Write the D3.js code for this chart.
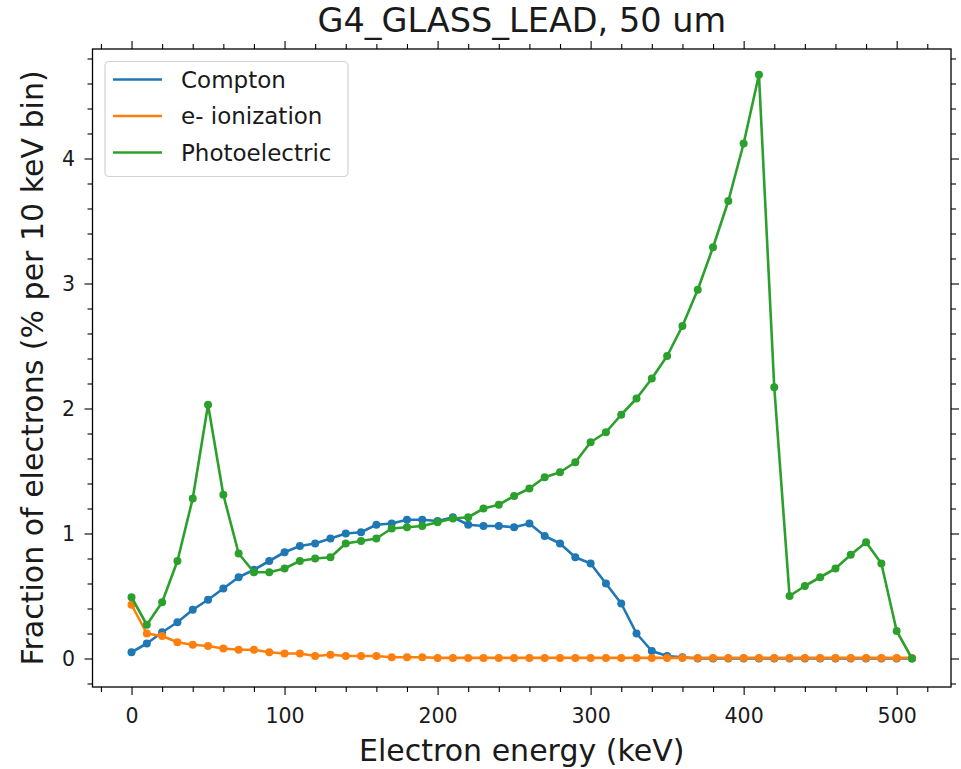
<!DOCTYPE html>
<html>
<head>
<meta charset="utf-8">
<script src="https://cdn.jsdelivr.net/npm/d3@7"></script>
<style>
  body { margin: 0; background: #fff; }
  svg { display: block; }
  text { font-family: "DejaVu Sans", sans-serif; fill: #1a1a1a; }
</style>
</head>
<body>
<svg id="chart" width="961" height="769"></svg>
<script>
const energies = d3.range(0, 520, 10);
const compton = [0.05,0.12,0.21,0.29,0.39,0.47,0.56,0.65,0.71,0.78,0.85,0.90,0.92,0.96,1.00,1.01,1.07,1.08,1.11,1.11,1.10,1.13,1.07,1.06,1.06,1.05,1.08,0.98,0.92,0.81,0.76,0.60,0.44,0.20,0.06,0.02,0.01,0,0,0,0,0,0,0,0,0,0,0,0,0,0,0];
const ionization = [0.43,0.20,0.18,0.13,0.11,0.10,0.08,0.07,0.07,0.05,0.04,0.04,0.02,0.03,0.02,0.02,0.02,0.01,0.01,0.01,0.005,0.005,0.005,0.005,0.005,0.005,0.005,0.005,0.005,0.005,0.005,0.005,0.005,0.005,0.005,0.005,0.005,0.005,0.005,0.005,0.005,0.005,0.005,0.005,0.005,0.005,0.005,0.005,0.005,0.005,0.005,0.005];
const photoelectric = [0.49,0.27,0.45,0.78,1.28,2.03,1.31,0.84,0.69,0.69,0.72,0.78,0.80,0.81,0.92,0.94,0.96,1.04,1.05,1.06,1.09,1.12,1.13,1.20,1.23,1.30,1.36,1.45,1.49,1.57,1.73,1.81,1.95,2.08,2.24,2.42,2.66,2.95,3.29,3.66,4.12,4.67,2.17,0.50,0.58,0.65,0.72,0.83,0.93,0.76,0.22,0.0];
const seriesNames = ["Compton", "e- ionization", "Photoelectric"];
const seriesColors = ["#1f77b4", "#ff7f0e", "#2ca02c"];
const xTicks = [0, 100, 200, 300, 400, 500];
const yTicks = [0, 1, 2, 3, 4];
const titleText = "G4_GLASS_LEAD, 50 um";
const xLabel = "Electron energy (keV)";
const yLabel = "Fraction of electrons (% per 10 keV bin)";

const svg = d3.select("#chart");
const L = 92.5, R = 951, T = 49, B = 687;
const x = d3.scaleLinear().domain([-25.5, 535.5]).range([L, R]);
const y = d3.scaleLinear().domain([-0.228, 4.876]).range([B, T]);

const xMinor = d3.range(-20, 540, 20).filter(v => v % 100 !== 0);
const yMinor = d3.range(-0.2, 4.9, 0.2).map(v => +v.toFixed(1)).filter(v => Math.abs(v - Math.round(v)) > 1e-6);
const MAJ = 8, MIN = 5;

function styleAxis(g) {
  g.select(".domain").remove();
  g.selectAll(".tick line").attr("stroke", "#000").attr("stroke-width", 1.1);
  g.selectAll(".tick text").style("font-size", "20.5px").attr("fill", "#1a1a1a");
}

// bottom
svg.append("g").attr("transform", `translate(0,${B})`)
  .call(d3.axisBottom(x).tickValues(xTicks).tickSize(MAJ).tickPadding(13.5).tickFormat(d3.format("d")))
  .call(styleAxis);
svg.append("g").attr("transform", `translate(0,${B})`)
  .call(d3.axisBottom(x).tickValues(xMinor).tickSize(MIN).tickFormat(""))
  .call(styleAxis);
// top
svg.append("g").attr("transform", `translate(0,${T})`)
  .call(d3.axisTop(x).tickValues(xTicks).tickSize(MAJ).tickFormat(""))
  .call(styleAxis);
svg.append("g").attr("transform", `translate(0,${T})`)
  .call(d3.axisTop(x).tickValues(xMinor).tickSize(MIN).tickFormat(""))
  .call(styleAxis);
// left
svg.append("g").attr("transform", `translate(${L},0)`)
  .call(d3.axisLeft(y).tickValues(yTicks).tickSize(MAJ).tickPadding(9.5).tickFormat(d3.format("d")))
  .call(styleAxis);
svg.append("g").attr("transform", `translate(${L},0)`)
  .call(d3.axisLeft(y).tickValues(yMinor).tickSize(MIN).tickFormat(""))
  .call(styleAxis);
// right
svg.append("g").attr("transform", `translate(${R},0)`)
  .call(d3.axisRight(y).tickValues(yTicks).tickSize(MAJ).tickFormat(""))
  .call(styleAxis);
svg.append("g").attr("transform", `translate(${R},0)`)
  .call(d3.axisRight(y).tickValues(yMinor).tickSize(MIN).tickFormat(""))
  .call(styleAxis);

// frame
svg.append("rect").attr("x", L).attr("y", T).attr("width", R - L).attr("height", B - T)
  .attr("fill", "none").attr("stroke", "#000").attr("stroke-width", 1.3);

// data
const allSeries = [compton, ionization, photoelectric];
const line = d3.line().x((d, i) => x(energies[i])).y(d => y(d));
const plot = svg.append("g");
allSeries.forEach((vals, k) => {
  const g = plot.append("g");
  g.append("path").datum(vals).attr("d", line)
    .attr("fill", "none").attr("stroke", seriesColors[k]).attr("stroke-width", 2.6)
    .attr("stroke-linejoin", "round");
  g.selectAll("circle").data(vals).join("circle")
    .attr("cx", (d, i) => x(energies[i])).attr("cy", d => y(d)).attr("r", 4)
    .attr("fill", seriesColors[k]);
});

// legend
const lg = svg.append("g");
lg.append("rect").attr("x", 105).attr("y", 61.5).attr("width", 243).attr("height", 115)
  .attr("rx", 4).attr("fill", "#fff").attr("fill-opacity", 0.8)
  .attr("stroke", "#d3d3d3").attr("stroke-width", 1.2);
const legendY = [79.5, 116, 152.5];
seriesNames.forEach((name, k) => {
  lg.append("line").attr("x1", 113).attr("x2", 162).attr("y1", legendY[k]).attr("y2", legendY[k])
    .attr("stroke", seriesColors[k]).attr("stroke-width", 2.6);
  lg.append("text").attr("x", 181).attr("y", legendY[k]).attr("dy", "0.36em")
    .style("font-size", "23px").text(name);
});

// titles
svg.append("text").attr("x", (L + R) / 2).attr("y", 32).attr("text-anchor", "middle")
  .style("font-size", "33.5px").text(titleText);
svg.append("text").attr("x", (L + R) / 2).attr("y", 761).attr("text-anchor", "middle")
  .style("font-size", "30px").text(xLabel);
svg.append("text").attr("transform", `translate(43,${(T + B) / 2}) rotate(-90)`)
  .attr("text-anchor", "middle").style("font-size", "30px").text(yLabel);
</script>
</body>
</html>
